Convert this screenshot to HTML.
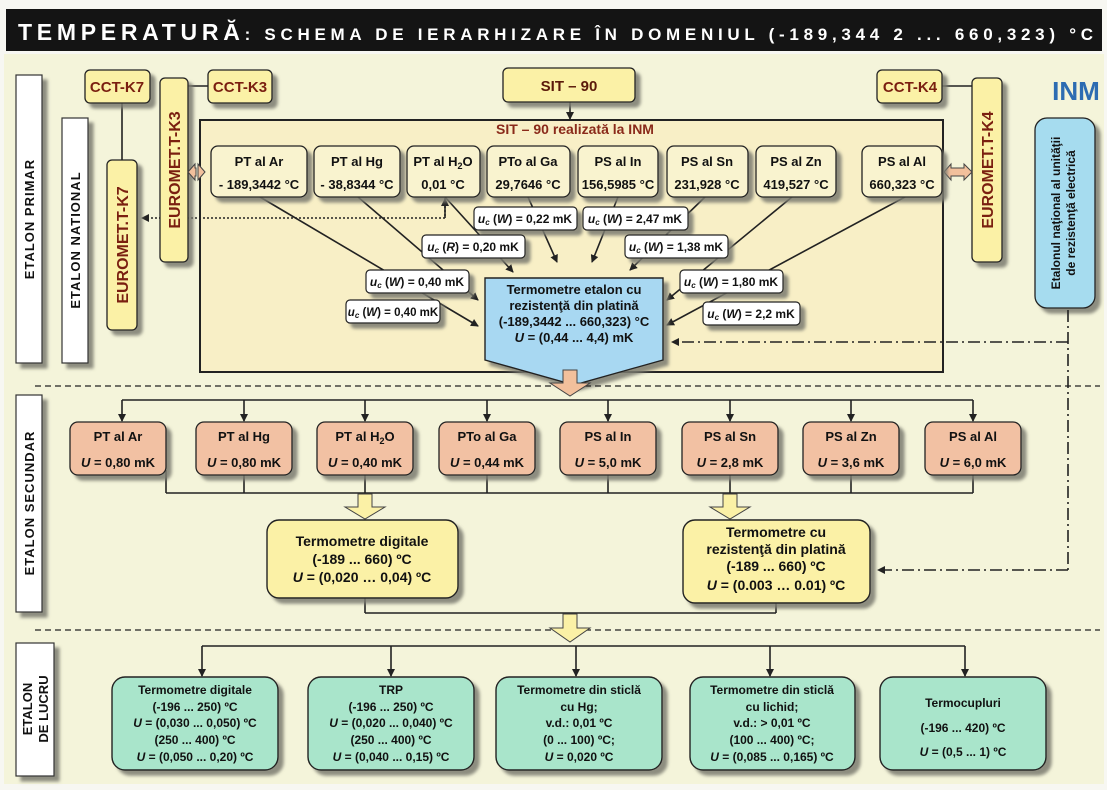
<!DOCTYPE html>
<html><head><meta charset="utf-8"><style>
html,body{margin:0;padding:0;background:#fff}
svg{display:block}
text{font-family:"Liberation Sans",Arial,sans-serif;font-weight:bold}
</style></head><body>
<svg width="1107" height="790" viewBox="0 0 1107 790" xmlns="http://www.w3.org/2000/svg">
<defs>
<filter id="sh" x="-10%" y="-10%" width="130%" height="140%"><feDropShadow dx="5" dy="5" stdDeviation="1.5" flood-color="#7a7a70" flood-opacity="0.85"/></filter>
<marker id="ar" markerWidth="8" markerHeight="8" refX="7" refY="4" orient="auto" markerUnits="userSpaceOnUse"><path d="M0,0 L8,4 L0,8 Z" fill="#222"/></marker>
</defs>
<rect x="0" y="0" width="1107" height="790" fill="#f7f7f2"/>
<rect x="4" y="54" width="1100" height="730" fill="#f4f4da"/>
<!-- title -->
<rect x="6" y="9" width="1096" height="42" fill="#141414"/>
<text x="18" y="40" fill="#fff" font-size="22" textLength="1075" lengthAdjust="spacing"><tspan font-size="23">TEMPERATURĂ</tspan><tspan font-size="17">: SCHEMA DE IERARHIZARE ÎN DOMENIUL (-189,344 2 ... 660,323) °C</tspan></text>

<!-- left labels -->
<g filter="url(#sh)" stroke="#333" stroke-width="1.2" fill="#fff">
<rect x="16" y="75" width="26" height="288"/>
<rect x="62" y="118" width="26" height="245"/>
<rect x="16" y="395" width="26" height="217"/>
<rect x="16" y="643" width="38" height="133"/>
</g>
<g font-size="13" fill="#111" text-anchor="middle">
<text transform="translate(34,219) rotate(-90)" letter-spacing="1">ETALON  PRIMAR</text>
<text transform="translate(80,240) rotate(-90)" letter-spacing="1">ETALON  NATIONAL</text>
<text transform="translate(34,503) rotate(-90)" letter-spacing="1">ETALON  SECUNDAR</text>
<text transform="translate(32,709) rotate(-90)">ETALON</text>
<text transform="translate(48,709) rotate(-90)">DE LUCRU</text>
</g>

<!-- big beige box -->
<rect x="200" y="120" width="743" height="252" fill="#f8efc6" stroke="#222" stroke-width="2"/>
<text x="575" y="134" font-size="14" fill="#8a2a1a" text-anchor="middle">SIT – 90 realizată la INM</text>

<!-- connectors top -->
<g stroke="#222" stroke-width="1.6" fill="none">
<line x1="122" y1="103" x2="122" y2="160"/>
<line x1="188" y1="86" x2="208" y2="86"/>
<line x1="942" y1="86" x2="972" y2="86"/>
<line x1="570" y1="102" x2="570" y2="119" marker-end="url(#ar)"/>
</g>
<!-- dotted -->
<path d="M445,198 L445,218 L142,218" stroke="#222" stroke-width="1.6" stroke-dasharray="2,2" fill="none" marker-end="url(#ar)"/>
<line x1="445" y1="218" x2="445" y2="199" stroke="#222" stroke-width="1.6" marker-end="url(#ar)"/>

<!-- yellow boxes -->
<g filter="url(#sh)" stroke="#222" stroke-width="1.3" fill="#fbf1a6">
<rect x="85" y="70" width="65" height="33" rx="5"/>
<rect x="208" y="70" width="64" height="33" rx="5"/>
<rect x="503" y="68" width="132" height="34" rx="5"/>
<rect x="877" y="70" width="65" height="33" rx="5"/>
<rect x="107" y="160" width="30" height="170" rx="5"/>
<rect x="160" y="78" width="28" height="184" rx="5"/>
<rect x="972" y="78" width="30" height="184" rx="5"/>
</g>
<rect x="1035" y="118" width="60" height="190" rx="12" fill="#a6dcef" stroke="#222" stroke-width="1.3" filter="url(#sh)"/>
<g font-size="15" fill="#7a1f10" text-anchor="middle">
<text x="117" y="92">CCT-K7</text>
<text x="240" y="92">CCT-K3</text>
<text x="569" y="91" fill="#5a1a0a">SIT – 90</text>
<text x="910" y="92">CCT-K4</text>
<text transform="translate(128,245) rotate(-90)" font-size="16">EUROMET.T-K7</text>
<text transform="translate(180,170) rotate(-90)" font-size="16">EUROMET.T-K3</text>
<text transform="translate(993,170) rotate(-90)" font-size="16">EUROMET.T-K4</text>
</g>
<text x="1076" y="100" font-size="26" fill="#2d6cb2" text-anchor="middle">INM</text>
<g font-size="12" fill="#111" text-anchor="middle">
<text transform="translate(1060,213) rotate(-90)">Etalonul naţional al unităţii</text>
<text transform="translate(1075,213) rotate(-90)">de rezistenţă electrică</text>
</g>
<!-- double arrows -->
<g fill="#f2c09c" stroke="#444" stroke-width="1">
<path d="M188,172 L195,164 L195,168 L196,168 L196,176 L195,176 L195,180 Z M205,172 L198,164 L198,180 Z"/>
<path d="M944,172 L951,164 L951,168 L964,168 L964,164 L972,172 L964,180 L964,176 L951,176 L951,180 Z"/>
</g>

<!-- lines from nodes to pentagon -->
<g stroke="#222" stroke-width="1.6" fill="none" marker-end="url(#ar)">
<line x1="260" y1="197" x2="478" y2="326"/>
<line x1="358" y1="197" x2="478" y2="300"/>
<line x1="445" y1="197" x2="513" y2="272"/>
<line x1="528" y1="197" x2="557" y2="262"/>
<line x1="618" y1="197" x2="592" y2="262"/>
<line x1="705" y1="197" x2="630" y2="270"/>
<line x1="792" y1="197" x2="667" y2="300"/>
<line x1="905" y1="197" x2="667" y2="325"/>
</g>

<!-- primary nodes -->
<g filter="url(#sh)" stroke="#222" stroke-width="1.3" fill="#f9f3cf">
<rect x="211" y="146" width="96" height="51" rx="7"/>
<rect x="314" y="146" width="86" height="51" rx="7"/>
<rect x="407" y="146" width="73" height="51" rx="7"/>
<rect x="487" y="146" width="83" height="51" rx="7"/>
<rect x="578" y="146" width="80" height="51" rx="7"/>
<rect x="667" y="146" width="81" height="51" rx="7"/>
<rect x="756" y="146" width="80" height="51" rx="7"/>
<rect x="862" y="146" width="80" height="51" rx="7"/>
</g>
<g font-size="13" fill="#111" text-anchor="middle">
<text x="259" y="166">PT al Ar</text><text x="259" y="189">- 189,3442 °C</text>
<text x="357" y="166">PT al Hg</text><text x="357" y="189">- 38,8344 °C</text>
<text x="443" y="166">PT al H<tspan font-size="9" dy="3">2</tspan><tspan dy="-3">O</tspan></text><text x="443" y="189">0,01 °C</text>
<text x="528" y="166">PTo al Ga</text><text x="528" y="189">29,7646 °C</text>
<text x="618" y="166">PS al In</text><text x="618" y="189">156,5985 °C</text>
<text x="707" y="166">PS al Sn</text><text x="707" y="189">231,928 °C</text>
<text x="796" y="166">PS al Zn</text><text x="796" y="189">419,527 °C</text>
<text x="902" y="166">PS al Al</text><text x="902" y="189">660,323 °C</text>
</g>

<!-- uc labels -->
<g filter="url(#sh)" stroke="#222" stroke-width="1.2" fill="#fff">
<rect x="474" y="207" width="103" height="23" rx="4"/>
<rect x="583" y="207" width="105" height="23" rx="4"/>
<rect x="422" y="235" width="103" height="23" rx="4"/>
<rect x="625" y="235" width="103" height="23" rx="4"/>
<rect x="366" y="270" width="103" height="23" rx="4"/>
<rect x="680" y="270" width="103" height="23" rx="4"/>
<rect x="346" y="300" width="94" height="23" rx="4"/>
<rect x="703" y="302" width="97" height="23" rx="4"/>
</g>
<g font-size="12" fill="#111" text-anchor="middle">
<text x="525" y="223"><tspan font-style="italic">u</tspan><tspan font-size="8" dy="2" font-style="italic">c</tspan><tspan dy="-2"> (</tspan><tspan font-style="italic">W</tspan>) = 0,22  mK</text>
<text x="635" y="223"><tspan font-style="italic">u</tspan><tspan font-size="8" dy="2" font-style="italic">c</tspan><tspan dy="-2"> (</tspan><tspan font-style="italic">W</tspan>) = 2,47  mK</text>
<text x="473" y="251"><tspan font-style="italic">u</tspan><tspan font-size="8" dy="2" font-style="italic">c</tspan><tspan dy="-2"> (</tspan><tspan font-style="italic">R</tspan>) = 0,20  mK</text>
<text x="676" y="251"><tspan font-style="italic">u</tspan><tspan font-size="8" dy="2" font-style="italic">c</tspan><tspan dy="-2"> (</tspan><tspan font-style="italic">W</tspan>) = 1,38  mK</text>
<text x="417" y="286"><tspan font-style="italic">u</tspan><tspan font-size="8" dy="2" font-style="italic">c</tspan><tspan dy="-2"> (</tspan><tspan font-style="italic">W</tspan>) = 0,40  mK</text>
<text x="731" y="286"><tspan font-style="italic">u</tspan><tspan font-size="8" dy="2" font-style="italic">c</tspan><tspan dy="-2"> (</tspan><tspan font-style="italic">W</tspan>) = 1,80  mK</text>
<text x="393" y="316" font-size="11.5"><tspan font-style="italic">u</tspan><tspan font-size="8" dy="2" font-style="italic">c</tspan><tspan dy="-2"> (</tspan><tspan font-style="italic">W</tspan>) = 0,40  mK</text>
<text x="751" y="318"><tspan font-style="italic">u</tspan><tspan font-size="8" dy="2" font-style="italic">c</tspan><tspan dy="-2"> (</tspan><tspan font-style="italic">W</tspan>) = 2,2  mK</text>
</g>

<!-- pentagon -->
<path d="M485,278 L663,278 L663,360 L574,385 L485,360 Z" fill="#a8d8f2" stroke="#222" stroke-width="1.4" filter="url(#sh)"/>
<g font-size="13" fill="#111" text-anchor="middle">
<text x="574" y="294">Termometre etalon cu</text>
<text x="574" y="310">rezistenţă din platină</text>
<text x="574" y="326">(-189,3442 ... 660,323) °C</text>
<text x="574" y="342"><tspan font-style="italic">U</tspan> = (0,44 ... 4,4) mK</text>
</g>
<!-- dash-dot -->
<g stroke="#222" stroke-width="1.6" fill="none" stroke-dasharray="12,4,2,4">
<line x1="1068" y1="310" x2="1068" y2="570"/>
<line x1="1068" y1="342" x2="672" y2="342" marker-end="url(#ar)"/>
<line x1="1068" y1="570" x2="878" y2="570" marker-end="url(#ar)"/>
</g>
<!-- dashed separators -->
<g stroke="#222" stroke-width="1.3" stroke-dasharray="6,4">
<line x1="35" y1="386" x2="1100" y2="386"/>
<line x1="35" y1="630" x2="1100" y2="630"/>
</g>
<!-- orange down arrow -->
<path d="M563,370 L577,370 L577,383 L590,383 L570,396 L550,383 L563,383 Z" fill="#f2c09c" stroke="#444" stroke-width="1"/>

<!-- secondary -->
<g stroke="#222" stroke-width="1.6" fill="none">
<line x1="122" y1="400" x2="973" y2="400"/>
<line x1="166" y1="493" x2="973" y2="493"/>
<line x1="365" y1="598" x2="365" y2="613"/><line x1="365" y1="613" x2="776" y2="613"/><line x1="776" y1="603" x2="776" y2="613"/>
</g>
<g stroke="#222" stroke-width="1.6" marker-end="url(#ar)">
<line x1="122" y1="400" x2="122" y2="421"/><line x1="244" y1="400" x2="244" y2="421"/>
<line x1="365" y1="400" x2="365" y2="421"/><line x1="487" y1="400" x2="487" y2="421"/>
<line x1="608" y1="400" x2="608" y2="421"/><line x1="730" y1="400" x2="730" y2="421"/>
<line x1="851" y1="400" x2="851" y2="421"/><line x1="973" y1="400" x2="973" y2="421"/>
</g>
<g stroke="#222" stroke-width="1.6">
<line x1="166" y1="470" x2="166" y2="493"/><line x1="244" y1="475" x2="244" y2="493"/>
<line x1="365" y1="475" x2="365" y2="493"/><line x1="487" y1="475" x2="487" y2="493"/>
<line x1="608" y1="475" x2="608" y2="493"/><line x1="730" y1="475" x2="730" y2="493"/>
<line x1="851" y1="475" x2="851" y2="493"/><line x1="973" y1="475" x2="973" y2="493"/>
</g>
<g filter="url(#sh)" stroke="#222" stroke-width="1.3" fill="#f2c1a3">
<rect x="70" y="422" width="96" height="53" rx="8"/>
<rect x="196" y="422" width="96" height="53" rx="8"/>
<rect x="317" y="422" width="96" height="53" rx="8"/>
<rect x="439" y="422" width="96" height="53" rx="8"/>
<rect x="560" y="422" width="96" height="53" rx="8"/>
<rect x="682" y="422" width="96" height="53" rx="8"/>
<rect x="803" y="422" width="96" height="53" rx="8"/>
<rect x="925" y="422" width="96" height="53" rx="8"/>
</g>
<g font-size="13" fill="#111" text-anchor="middle">
<text x="118" y="441">PT al Ar</text><text x="118" y="467"><tspan font-style="italic">U</tspan> = 0,80 mK</text>
<text x="244" y="441">PT al Hg</text><text x="244" y="467"><tspan font-style="italic">U</tspan> = 0,80 mK</text>
<text x="365" y="441">PT al H<tspan font-size="9" dy="3">2</tspan><tspan dy="-3">O</tspan></text><text x="365" y="467"><tspan font-style="italic">U</tspan> = 0,40 mK</text>
<text x="487" y="441">PTo al Ga</text><text x="487" y="467"><tspan font-style="italic">U</tspan> = 0,44 mK</text>
<text x="608" y="441">PS al In</text><text x="608" y="467"><tspan font-style="italic">U</tspan> = 5,0 mK</text>
<text x="730" y="441">PS al Sn</text><text x="730" y="467"><tspan font-style="italic">U</tspan> = 2,8 mK</text>
<text x="851" y="441">PS al Zn</text><text x="851" y="467"><tspan font-style="italic">U</tspan> = 3,6 mK</text>
<text x="973" y="441">PS al Al</text><text x="973" y="467"><tspan font-style="italic">U</tspan> = 6,0 mK</text>
</g>
<g fill="#fbf1a6" stroke="#444" stroke-width="1">
<path d="M358,494 L372,494 L372,507 L385,507 L365,519 L345,507 L358,507 Z"/>
<path d="M723,494 L737,494 L737,507 L750,507 L730,519 L710,507 L723,507 Z"/>
<path d="M563,614 L577,614 L577,628 L590,628 L570,642 L550,628 L563,628 Z"/>
</g>
<g filter="url(#sh)" stroke="#222" stroke-width="1.4" fill="#fbf1a6">
<rect x="267" y="520" width="191" height="78" rx="12"/>
<rect x="683" y="520" width="187" height="83" rx="12"/>
</g>
<g font-size="14" fill="#111" text-anchor="middle">
<text x="362" y="546">Termometre digitale</text>
<text x="362" y="564">(-189 ... 660) ºC</text>
<text x="362" y="582"><tspan font-style="italic">U</tspan> = (0,020 … 0,04) ºC</text>
<text x="776" y="537">Termometre cu</text>
<text x="776" y="554">rezistenţă din platină</text>
<text x="776" y="571">(-189 ... 660) ºC</text>
<text x="776" y="590"><tspan font-style="italic">U</tspan> = (0.003 … 0.01) ºC</text>
</g>

<!-- lucru -->
<line x1="202" y1="646" x2="965" y2="646" stroke="#222" stroke-width="1.6"/>
<g stroke="#222" stroke-width="1.6" marker-end="url(#ar)">
<line x1="202" y1="646" x2="202" y2="676"/><line x1="391" y1="646" x2="391" y2="676"/>
<line x1="576" y1="646" x2="576" y2="676"/><line x1="770" y1="646" x2="770" y2="676"/>
<line x1="965" y1="646" x2="965" y2="676"/>
</g>
<g filter="url(#sh)" stroke="#222" stroke-width="1.4" fill="#a9e5cb">
<rect x="112" y="677" width="166" height="93" rx="13"/>
<rect x="308" y="677" width="166" height="93" rx="13"/>
<rect x="496" y="677" width="166" height="93" rx="13"/>
<rect x="690" y="677" width="165" height="93" rx="13"/>
<rect x="880" y="677" width="166" height="93" rx="13"/>
</g>
<g font-size="12" fill="#111" text-anchor="middle">
<text x="195" y="694">Termometre digitale</text><text x="195" y="711">(-196 ... 250) ºC</text><text x="195" y="727"><tspan font-style="italic">U</tspan> = (0,030 ... 0,050) ºC</text><text x="195" y="744">(250 ... 400) ºC</text><text x="195" y="761"><tspan font-style="italic">U</tspan> = (0,050 ... 0,20) ºC</text>
<text x="391" y="694">TRP</text><text x="391" y="711">(-196 ... 250) ºC</text><text x="391" y="727"><tspan font-style="italic">U</tspan> = (0,020 ... 0,040) ºC</text><text x="391" y="744">(250 ... 400) ºC</text><text x="391" y="761"><tspan font-style="italic">U</tspan> = (0,040 ... 0,15) ºC</text>
<text x="579" y="694">Termometre din sticlă</text><text x="579" y="711">cu Hg;</text><text x="579" y="727">v.d.: 0,01 ºC</text><text x="579" y="744">(0 ... 100) ºC;</text><text x="579" y="761"><tspan font-style="italic">U</tspan> = 0,020 ºC</text>
<text x="772" y="694">Termometre din sticlă</text><text x="772" y="711">cu lichid;</text><text x="772" y="727">v.d.: &gt; 0,01 ºC</text><text x="772" y="744">(100 ... 400) ºC;</text><text x="772" y="761"><tspan font-style="italic">U</tspan>  = (0,085 ... 0,165) ºC</text>
<text x="963" y="707">Termocupluri</text><text x="963" y="732">(-196 ... 420) ºC</text><text x="963" y="756"><tspan font-style="italic">U</tspan> =  (0,5 ... 1) ºC</text>
</g>
</svg>
</body></html>
